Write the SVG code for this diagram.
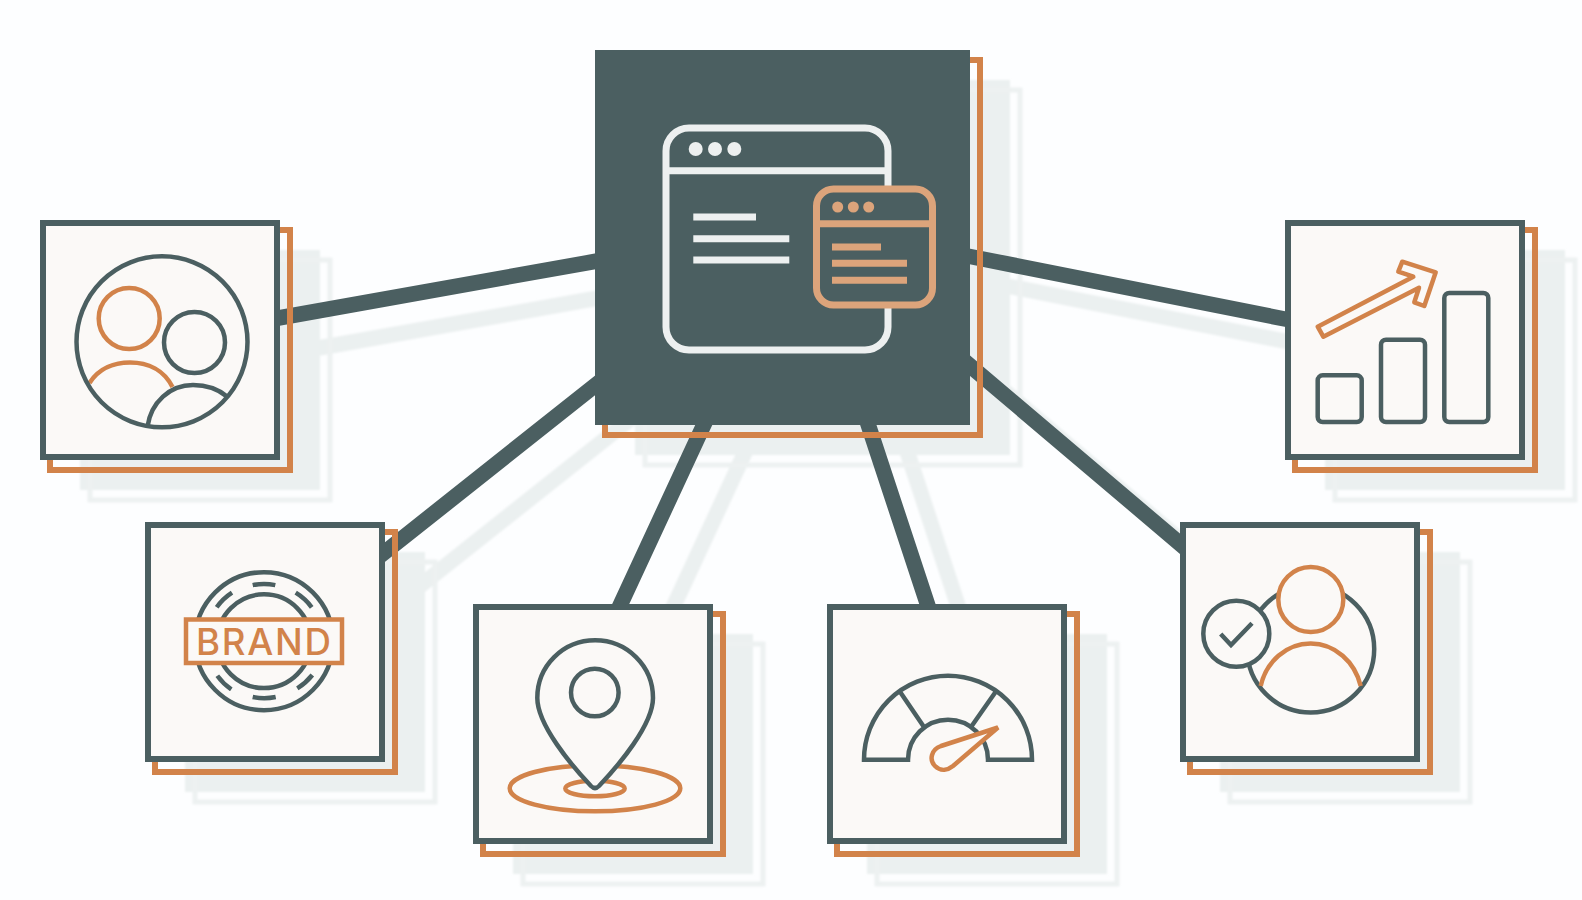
<svg xmlns="http://www.w3.org/2000/svg" width="1582" height="900" viewBox="0 0 1582 900">
<style>
.bg{fill:#fdfeff}
.gf{fill:#ebf0f0}
.gr{fill:none;stroke:#edf1f1;stroke-width:5}
.gl{stroke:#ebf0f0;stroke-width:15.500;fill:none}
.con{stroke:#4b5f61;stroke-width:15.500;fill:none}
.card{fill:#fbf9f7;stroke:#4b5f61;stroke-width:6}
.off{fill:none;stroke:#d2834a;stroke-width:6}
.d{fill:none;stroke:#4b5f61;stroke-width:4.500}
.o{fill:none;stroke:#d2834a;stroke-width:4.500}
.df{fill:#fbf9f7;stroke:#4b5f61;stroke-width:4.500}
.of{fill:#fbf9f7;stroke:#d2834a;stroke-width:4.500}
.lt{fill:none;stroke:#edf0f0;stroke-width:7}
.ltf{fill:#edf0f0}
.tan{fill:#4b5f61;stroke:#dca47b;stroke-width:7}
.tanl{fill:none;stroke:#dca47b;stroke-width:7}
.tanf{fill:#dca47b}
</style>
<defs><filter id="soft" x="-5%" y="-5%" width="110%" height="110%"><feGaussianBlur stdDeviation="1.300"/></filter></defs>
<rect class="bg" width="1582" height="900"/>
<g id="shadows" filter="url(#soft)">
<g transform="translate(40 30)">
<path class="gl" d="M270 319.500L600 260.500M965 255.500L1290 320M380 556L600 381.500M707 418L617 612M866 418L930 612M965 361.500L1185 548"/>
</g>
<rect class="gf" x="635" y="80" width="375" height="375"/><rect class="gr" x="645" y="90" width="375" height="375"/>
<rect class="gf" x="80" y="250" width="240" height="240"/><rect class="gr" x="90" y="260" width="240" height="240"/>
<rect class="gf" x="185" y="552" width="240" height="240"/><rect class="gr" x="195" y="562" width="240" height="240"/>
<rect class="gf" x="513" y="634" width="240" height="240"/><rect class="gr" x="523" y="644" width="240" height="240"/>
<rect class="gf" x="867" y="634" width="240" height="240"/><rect class="gr" x="877" y="644" width="240" height="240"/>
<rect class="gf" x="1220" y="552" width="240" height="240"/><rect class="gr" x="1230" y="562" width="240" height="240"/>
<rect class="gf" x="1325" y="250" width="240" height="240"/><rect class="gr" x="1335" y="260" width="240" height="240"/>
</g>
<g id="connectors">
<path class="con" d="M270 319.500L600 260.500M965 255.500L1290 320M380 556L600 381.500M707 418L617 612M866 418L930 612M965 361.500L1185 548"/>
</g>
<g id="hub">
<rect class="off" x="605" y="60" width="375" height="375"/>
<rect x="595" y="50" width="375" height="375" fill="#4b5f61"/>
<rect class="lt" x="666" y="128" width="222" height="222" rx="23"/>
<path class="lt" d="M666 170.700H888"/>
<circle class="ltf" cx="695.700" cy="149" r="7"/><circle class="ltf" cx="715" cy="149" r="7"/><circle class="ltf" cx="734.300" cy="149" r="7"/>
<path class="lt" d="M693.300 217H756M693.300 238.700H789.300M693.300 260H789.300"/>
<rect class="tan" x="816.500" y="189" width="116" height="116" rx="17"/>
<path class="tanl" d="M816.500 223.700H932.500M832 247H881M832 263.300H907M832 280.300H907"/>
<circle class="tanf" cx="837.700" cy="207" r="5.500"/><circle class="tanf" cx="853.300" cy="207" r="5.500"/><circle class="tanf" cx="868.700" cy="207" r="5.500"/>
</g>
<g id="node-people">
<rect class="off" x="50" y="230" width="240" height="240"/>
<rect class="card" x="43" y="223" width="234" height="234"/>
<path class="o" d="M89.500 383C99 368 115 362.500 130 362.500C148 362.500 164 370 172.500 387"/>
<circle class="o" cx="129.200" cy="318.500" r="30.500"/>
<circle class="d" cx="194.500" cy="342.500" r="30.500"/>
<path class="d" d="M147.500 426.500C151 402 170 385 193 385C206 385 218 389 227 396.500"/>
<circle class="d" cx="162" cy="341.800" r="85.500"/>
</g>
<g id="node-brand">
<rect class="off" x="155" y="532" width="240" height="240"/>
<rect class="card" x="148" y="525" width="234" height="234"/>
<circle class="d" cx="264" cy="641.200" r="69"/>
<circle class="d" cx="264" cy="641.200" r="46.900"/>
<path class="d" d="M252.700 585.100A57 57 0 0 1 275.300 585.100M295.700 592.700A57 57 0 0 1 311.700 607.300M216.700 607.300A57 57 0 0 1 232 592.700M217.300 675.700A57 57 0 0 0 231.300 689.300M297.300 688.300A57 57 0 0 0 312.300 675M252.700 697A57 57 0 0 0 275.700 697"/>
<rect class="of" x="186" y="619.500" width="156" height="43.500"/>
<text x="196" y="655" font-family="Inter,sans-serif" font-size="36.700" font-weight="500" fill="#d2834a" textLength="135" lengthAdjust="spacing">BRAND</text>
</g>
<g id="node-location">
<rect class="off" x="483" y="614" width="240" height="240"/>
<rect class="card" x="476" y="607" width="234" height="234"/>
<ellipse class="o" cx="595" cy="788.300" rx="85.300" ry="23"/>
<ellipse class="o" cx="595" cy="788.500" rx="29.700" ry="7.800"/>
<path class="df" d="M595.200 640.300C627 640.300 653 666 653 698C653 725 618 766 599 786Q595 790 591 786C572 766 537.300 725 537.300 698C537.300 666 563 640.300 595.200 640.300Z"/>
<circle class="d" cx="594.800" cy="692.500" r="23.800"/>
</g>
<g id="node-gauge">
<rect class="off" x="837" y="614" width="240" height="240"/>
<rect class="card" x="830" y="607" width="234" height="234"/>
<path class="d" d="M864 759.700A84 84 0 0 1 1032 759.700H988A40 40 0 0 0 908 759.700ZM900 691.700L923.300 726M995.700 691.700L971.700 726"/>
<path class="of" d="M998 727.500L941 746C931 749.500 929 760 935 766C941 772 948 770 953 766Z"/>
</g>
<g id="node-verified">
<rect class="off" x="1190" y="532" width="240" height="240"/>
<rect class="card" x="1183" y="525" width="234" height="234"/>
<circle class="d" cx="1310.700" cy="649" r="63.500"/>
<path class="o" d="M1260.700 686C1266 662 1286 643.500 1310.700 643.500C1335 643.500 1355 662 1360.700 686"/>
<circle class="of" cx="1310.800" cy="599.500" r="32.500"/>
<circle class="df" cx="1236.300" cy="633.700" r="33"/>
<path class="d" d="M1220.700 634L1231 645L1252 623.300"/>
</g>
<g id="node-growth">
<rect class="off" x="1295" y="230" width="240" height="240"/>
<rect class="card" x="1288" y="223" width="234" height="234"/>
<path class="o" stroke-linejoin="round" d="M1317.700 326.700L1413.300 276.700L1398.300 271.700L1402.300 261.700L1435.700 272.300L1424.300 306L1414.300 302.300L1419 287.700L1323.300 336.700Z"/>
<rect class="d" x="1317.700" y="375.300" width="44" height="46.700" rx="5"/>
<rect class="d" x="1381" y="339.700" width="44" height="82.300" rx="5"/>
<rect class="d" x="1444.300" y="293" width="44" height="129" rx="5"/>
</g>
</svg>
